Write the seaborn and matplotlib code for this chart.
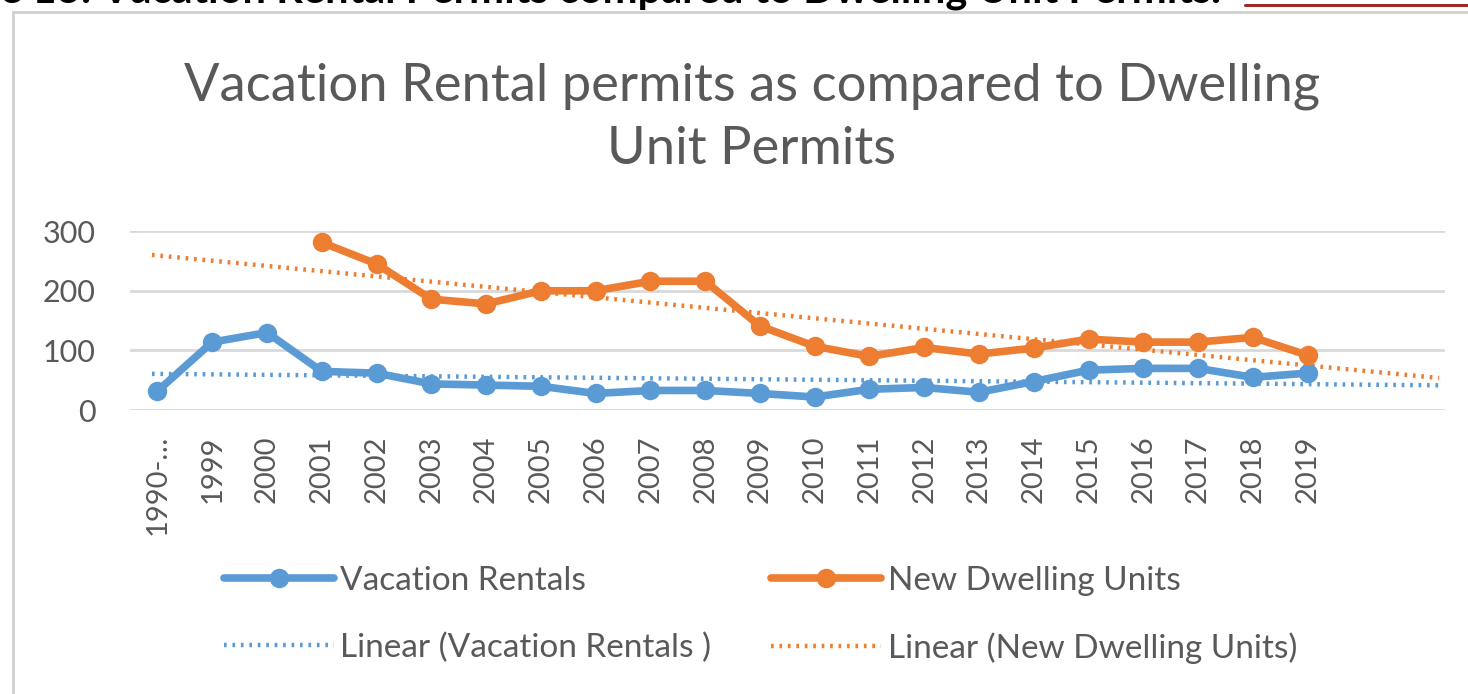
import numpy as np
import pandas as pd
import seaborn as sns
import matplotlib.pyplot as plt
from matplotlib.patches import Rectangle
from matplotlib.lines import Line2D

years = ["1990-…", "1999", "2000", "2001", "2002", "2003", "2004", "2005", "2006",
         "2007", "2008", "2009", "2010", "2011", "2012", "2013", "2014", "2015",
         "2016", "2017", "2018", "2019"]
vacation_rentals = [32, 114, 130, 65, 62, 44, 42, 40, 28, 33, 33, 28, 22, 35, 38, 30,
                    48, 67, 70, 70, 55, 62]
new_dwelling = [np.nan, np.nan, np.nan, 281, 245, 186, 178, 200, 200, 216, 216, 141,
                107, 90, 105, 94, 104, 119, 114, 114, 122, 92]

BLUE = "#5B9BD5"
ORANGE = "#ED7D31"
TEXT = "#595959"

sns.set_theme(style="white")
plt.rcParams["font.family"] = ["Lato", "DejaVu Sans"]

df = pd.DataFrame({"idx": np.arange(len(years)), "vac": vacation_rentals, "dwell": new_dwelling})

fig = plt.figure(figsize=(14.68, 6.94), dpi=100)
ax = fig.add_axes([0.0886, 0.409, 0.8954, 0.258])

# outer chart frame (partially cut off like the screenshot)
fig.patches.append(Rectangle((13 / 1468, -0.1), 1.2, 1 - 12 / 694 + 0.1,
                             transform=fig.transFigure, fill=False,
                             edgecolor="#D0D0D0", linewidth=2))

# linear trends (forward forecast like excel)
tx = np.array([-0.1, 23.4])
for col, color, lab in [("vac", BLUE, "Linear (Vacation Rentals )"),
                        ("dwell", ORANGE, "Linear (New Dwelling Units)")]:
    d = df.dropna(subset=[col])
    k, b = np.polyfit(d["idx"], d[col], 1)
    ax.plot(tx, k * tx + b, linestyle=(0, (0.6, 1.3)), color=color, linewidth=3.2,
            label=lab, zorder=2)

sns.lineplot(data=df, x="idx", y="vac", ax=ax, color=BLUE, linewidth=5.5, marker="o",
             markersize=14, markeredgewidth=0, label="Vacation Rentals", zorder=3)
sns.lineplot(data=df.dropna(), x="idx", y="dwell", ax=ax, color=ORANGE, linewidth=5.5,
             marker="o", markersize=14, markeredgewidth=0, label="New Dwelling Units",
             zorder=3)

ax.set_xlim(-0.5, 23.5)
ax.set_ylim(0, 300)
ax.set_yticks([0, 100, 200, 300])
ax.set_xticks(np.arange(len(years)))
ax.set_xticklabels(years, rotation=90, fontsize=21, color=TEXT)
ax.tick_params(axis="y", labelsize=22, labelcolor=TEXT, pad=25, length=0)
ax.tick_params(axis="x", length=0, pad=18)
ax.grid(axis="y", color="#D9D9D9", linewidth=2)
ax.set_axisbelow(True)
for s in ax.spines.values():
    s.set_visible(False)
ax.set_xlabel("")
ax.set_ylabel("")

handles, labels = ax.get_legend_handles_labels()
# legend fills column by column
order = [labels.index(l) for l in ["Vacation Rentals", "Linear (Vacation Rentals )",
                                   "New Dwelling Units", "Linear (New Dwelling Units)"]]
ax.get_legend().remove()
fig.legend([handles[i] for i in order], [labels[i] for i in order], ncol=2,
           loc="center", bbox_to_anchor=(0.518, 0.114), frameon=False, fontsize=24,
           labelcolor=TEXT, handlelength=3.3, columnspacing=1.8, labelspacing=1.1,
           handletextpad=0.2)

fig.text(0.512, 0.831, "Vacation Rental permits as compared to Dwelling\nUnit Permits",
         ha="center", va="center", fontsize=37.8, color=TEXT, linespacing=1.42)

# caption line cut off at the top of the screenshot
fig.text(0.0, 1 - 3 / 694, "e 13: Vacation Rental Permits compared to Dwelling Unit Permits.",
         ha="left", va="baseline", fontsize=30, fontweight="bold", color="black")
fig.add_artist(Line2D([1245 / 1468, 1.0], [1 - 5 / 694, 1 - 5 / 694],
                      transform=fig.transFigure, color="#9E2A2A", linewidth=2.2))

fig.savefig("out.png", dpi=100)
